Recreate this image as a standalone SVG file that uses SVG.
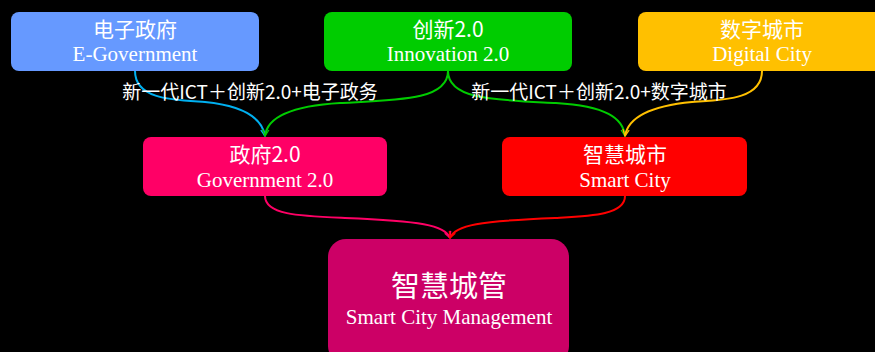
<svg xmlns="http://www.w3.org/2000/svg" width="875" height="352" viewBox="0 0 875 352">
<style>
.zh{font-family:"Noto Sans CJK SC","Noto Sans",sans-serif;fill:#fff;text-anchor:middle}
.en{font-family:"Liberation Serif",serif;fill:#fff;text-anchor:middle}
.c{fill:none;stroke-width:2}
</style>
<defs>
<marker id="a" viewBox="0 0 10 10" refX="9" refY="5" markerWidth="8" markerHeight="8" orient="auto" markerUnits="userSpaceOnUse"><path d="M1,1 L9,5 L1,9" fill="none" stroke="context-stroke" stroke-width="1.6"/></marker>
</defs>
<rect width="875" height="352" fill="#000"/>
<g id="connectors">
<path class="c" stroke="#00B0F0" d="M135,71 C135,100 175,100 205,102 C245,106 262,118 265,136" marker-end="url(#a)"/>
<path class="c" stroke="#00CC00" d="M448,71 C448,100 400,100 340,103 C290,106 267,118 265,136" marker-end="url(#a)"/>
<path class="c" stroke="#00CC00" d="M448,71 C448,100 496,100 556,103 C606,106 623,118 625,136" marker-end="url(#a)"/>
<path class="c" stroke="#FFC000" d="M762,71 C762,100 722,100 692,102 C650,106 628,118 625,136" marker-end="url(#a)"/>
<path class="c" stroke="#FF0066" d="M265,196 C265,215 300,216 345,218 C420,221 445,225 450,238" marker-end="url(#a)"/>
<path class="c" stroke="#FF0000" d="M625,196 C625,215 590,216 555,218 C480,221 455,225 450,238" marker-end="url(#a)"/>
<text class="zh" x="250" y="99" font-size="19">新一代ICT＋创新2.0+电子政务</text>
<text class="zh" x="599" y="99" font-size="19">新一代ICT＋创新2.0+数字城市</text>
</g>
<g id="egov">
<rect x="11" y="12" width="248" height="59" rx="8" fill="#6699FF"/>
<text class="zh" x="135" y="37" font-size="21">电子政府</text>
<text class="en" x="135" y="61" font-size="21">E-Government</text>
</g>
<g id="innovation">
<rect x="324" y="12" width="248" height="59" rx="8" fill="#00CC00"/>
<text class="zh" x="448" y="37" font-size="21">创新2.0</text>
<text class="en" x="448" y="61" font-size="21">Innovation 2.0</text>
</g>
<g id="digital">
<rect x="638" y="12" width="250" height="59" rx="8" fill="#FFC000"/>
<text class="zh" x="762" y="37" font-size="21">数字城市</text>
<text class="en" x="762" y="61" font-size="21">Digital City</text>
</g>
<g id="gov2">
<rect x="143" y="137" width="244" height="59" rx="8" fill="#FF0066"/>
<text class="zh" x="265" y="162" font-size="21">政府2.0</text>
<text class="en" x="265" y="187" font-size="21">Government 2.0</text>
</g>
<g id="smartcity">
<rect x="502" y="137" width="245" height="59" rx="8" fill="#FF0000"/>
<text class="zh" x="625" y="162" font-size="21">智慧城市</text>
<text class="en" x="625" y="187" font-size="21">Smart City</text>
</g>
<g id="management">
<rect x="328" y="239" width="241" height="125" rx="18" fill="#CC0066"/>
<text class="zh" x="449" y="297" font-size="29">智慧城管</text>
<text class="en" x="449" y="324" font-size="21">Smart City Management</text>
</g>
</svg>
